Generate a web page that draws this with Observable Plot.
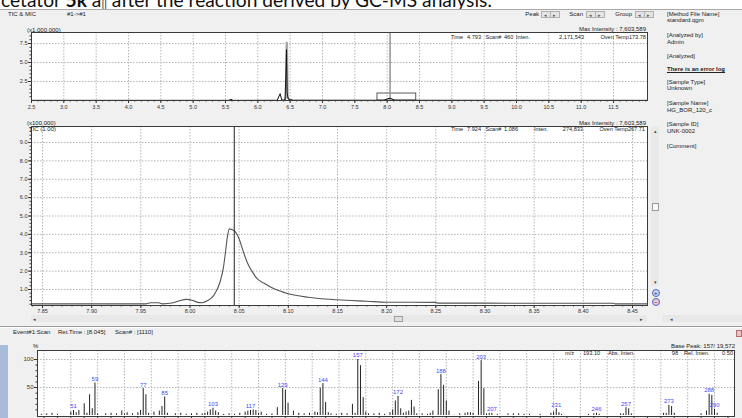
<!DOCTYPE html>
<html><head><meta charset="utf-8">
<script src="https://cdn.jsdelivr.net/npm/d3@7"></script>
<script src="https://cdn.jsdelivr.net/npm/@observablehq/plot@0.6"></script>
<style>
html,body{margin:0;padding:0;}
body{width:742px;height:418px;overflow:hidden;position:relative;background:#f0f0f0;font-family:"Liberation Sans",Arial,sans-serif;}
#root{position:absolute;left:0;top:0;width:742px;height:418px;}
.t{position:absolute;font-size:6px;line-height:8px;white-space:nowrap;color:#222;}
.s{font-size:5.6px;}
.box{position:absolute;box-sizing:border-box;}
.plot{position:absolute;left:0;}
</style></head><body>
<div id="root"></div>
<script>
// ---------------- DATA ----------------
// top chromatogram (TIC, x1,000,000)
const topTicks = [2.5,3.0,3.5,4.0,4.5,5.0,5.5,6.0,6.5,7.0,7.5,8.0,8.5,9.0,9.5,10.0,10.5,11.0,11.5];
const topYTicks = [2.5,5.0,7.5];
const ticBlackTime  = [2.5,5.55,5.585,5.62,6.30,6.345,6.37,6.42,6.433,6.443,6.453,6.47,6.50,6.55,7.95,8.03,8.06,8.12,12.025];
const ticBlackInten = [0.02,0.02,0.14,0.02,0.03,0.9,0.05,0.06,3.2,6.7,1.0,0.2,0.08,0.04,0.03,0.3,0.25,0.03,0.02];
const ticGrayTime  = [6.42,6.436,6.443,6.452,6.462,6.49,6.53];
const ticGrayInten = [0.05,0.5,7.6,7.6,0.4,0.12,0.03];
const zoomWindow = [7.85, 8.45, 0.92];
const cursorTime = 8.045;

// middle chromatogram (x100,000)
const midXTicks = [7.85,7.90,7.95,8.00,8.05,8.10,8.15,8.20,8.25,8.30,8.35,8.40,8.45];
const midYTicks = [1,2,3,4,5,6,7,8,9];
const midTime  = [7.8388,7.90,7.955,7.96,7.968,7.972,7.983,7.99,7.996,8.003,8.008,8.012,8.018,8.024,8.028,8.031,8.034,8.036,8.038,8.040,8.043,8.046,8.050,8.054,8.058,8.063,8.068,8.075,8.085,8.10,8.12,8.15,8.18,8.20,8.25,8.252,8.30,8.35,8.40,8.43,8.432,8.4653];
const midInten = [0.22,0.22,0.22,0.28,0.28,0.22,0.28,0.40,0.46,0.40,0.30,0.28,0.40,0.67,1.05,1.49,2.2,3.0,3.85,4.30,4.25,4.15,3.75,3.1,2.5,2.0,1.6,1.35,1.05,0.77,0.58,0.44,0.36,0.31,0.30,0.26,0.26,0.25,0.25,0.25,0.22,0.22];

// mass spectrum (relative intensity, %)
const specMz  = [39,41,43,45,50,51,52,53,55,56,57,58,59,60,63,65,67,69,70,71,73,75,76,77,78,79,81,83,84,85,86,89,91,93,95,97,99,100,101,102,103,104,105,107,109,111,113,115,116,117,118,119,120,121,123,125,127,129,130,131,133,135,137,139,141,142,143,144,145,146,147,149,151,153,155,156,157,158,159,160,161,163,165,167,169,170,171,172,173,174,175,176,177,178,179,181,183,184,185,187,188,189,190,191,193,195,197,198,199,200,202,203,204,205,206,207,209,213,215,217,219,221,225,229,230,231,232,233,243,245,246,247,255,256,257,258,259,271,272,273,274,275,285,287,288,289,290,291];
const specRel = [2,3,4,2,6,9,5,9,21,4,37,12,58,3,3,4,3,8,3,5,3,5,9,48,37,4,6,8,16,33,4,3,4,2,3,4,3,4,6,10,13,8,5,2,3,2,4,6,8,9,10,9,4,6,2,3,14,48,45,22,8,4,3,4,6,5,49,57,23,5,3,2,4,3,20,4,100,89,32,6,3,3,4,2,5,10,26,34,12,4,6,8,27,15,3,3,2,4,8,46,73,54,26,8,0.5,3,4,5,5,4,61,98,48,3,4,4,2,3,3,3,2,2,2,4,6,12,5,2,2,3,4,2,3,3,14,12,3,4,4,18,16,4,3,8,38,36,11,4];
const specLabels = [51,59,77,85,103,117,129,144,157,172,188,203,207,231,246,257,273,288,290];
const specGrid = [40,50,60,70,80,90,100,110,120,130,140,150,160,170,180,190,200,210,220,230,240,250,260,270,280,290];

// ---------------- BUILD ----------------
const root = document.getElementById("root");
const fmt1 = d3.format(".1f"), fmt2 = d3.format(".2f");
const baseStyle = {fontFamily:"Liberation Sans, Arial, sans-serif", fontSize:"5.5px", background:"transparent", color:"#333", overflow:"visible"};
const gridOpt = {stroke:"#b5b5b5", strokeOpacity:1, strokeDasharray:"1.5,1.5"};

function addPlot(p, top){ p.classList.add("plot"); p.style.top = top+"px"; root.appendChild(p); }

// top panel
const topBlack = ticBlackTime.map((t,i)=>({t, v:ticBlackInten[i]}));
const topGray = ticGrayTime.map((t,i)=>({t, v:ticGrayInten[i]}));
const topMinor = d3.range(25,121).map(d=>d/10);
addPlot(Plot.plot({
  width:742, height:116, marginLeft:31, marginRight:95, marginTop:32, marginBottom:16,
  x:{domain:[2.5,11.5], range:[31,613]},
  y:{domain:[0,7.5], range:[100,43]},
  style: baseStyle,
  marks:[
    Plot.frame({fill:"white", stroke:"none"}),
    Plot.gridX(topTicks.slice(1), gridOpt),
    Plot.gridY(topYTicks, gridOpt),
    Plot.rect([zoomWindow], {x1:d=>d[0], x2:d=>d[1], y1:0, y2:d=>d[2], stroke:"#333", fill:"none", strokeWidth:0.8}),
    Plot.ruleX([cursorTime], {stroke:"#9a9a9a", strokeWidth:1.6}),
    Plot.line(topGray, {x:"t", y:"v", stroke:"#a8a8a8", strokeWidth:2}),
    Plot.line(topBlack, {x:"t", y:"v", stroke:"#111", strokeWidth:1}),
    Plot.axisX(topMinor, {tickSize:1.5, tickFormat:()=>"", label:null, stroke:"#333"}),
    Plot.axisX(topTicks, {tickSize:3, tickPadding:1.5, tickFormat:fmt1, label:null, stroke:"#333"}),
    Plot.axisY(d3.range(1,18).map(d=>d/2), {tickSize:1.5, tickFormat:()=>"", label:null, stroke:"#333"}),
    Plot.axisY(topYTicks, {tickSize:3, tickPadding:1, tickFormat:fmt1, label:null, stroke:"#333"}),
    Plot.frame({stroke:"#3a3a3a", strokeWidth:1})
  ]
}), 0);

// middle panel
const mid = midTime.map((t,i)=>({t, v:midInten[i]}));
const midMinorX = d3.range(784,847).map(d=>d/100);
const midMinorY = d3.range(1,50).map(d=>d/5);
addPlot(Plot.plot({
  width:742, height:204, marginLeft:31, marginRight:95, marginTop:10, marginBottom:15,
  x:{domain:[7.85,8.45], range:[42,632]},
  y:{domain:[1,9], range:[173,26]},
  style: baseStyle,
  marks:[
    Plot.frame({fill:"white", stroke:"none"}),
    Plot.gridX(midXTicks, gridOpt),
    Plot.gridY(midYTicks, gridOpt),
    Plot.line(mid, {x:"t", y:"v", stroke:"#555", strokeWidth:1.1, curve:"monotone-x"}),
    Plot.ruleX([cursorTime], {stroke:"#222", strokeWidth:1}),
    Plot.axisX(midMinorX, {tickSize:1.5, tickFormat:()=>"", label:null, stroke:"#333"}),
    Plot.axisX(midXTicks, {tickSize:3, tickPadding:0.5, tickFormat:fmt2, label:null, stroke:"#333"}),
    Plot.axisY(midMinorY, {tickSize:1.5, tickFormat:()=>"", label:null, stroke:"#333"}),
    Plot.axisY(midYTicks, {tickSize:3, tickPadding:1, tickFormat:fmt1, label:null, stroke:"#333"}),
    Plot.frame({stroke:"#3a3a3a", strokeWidth:1})
  ]
}), 116);

// spectrum
const spec = specMz.map((m,i)=>({mz:m, rel:specRel[i]}));
const specLab = spec.filter(d=>specLabels.includes(d.mz));
addPlot(Plot.plot({
  width:742, height:80, marginLeft:37, marginRight:8, marginTop:12, marginBottom:2,
  x:{domain:[51,290], range:[73,714]},
  y:{domain:[0,100], range:[77,21]},
  style: baseStyle,
  marks:[
    Plot.frame({fill:"white", stroke:"none"}),
    Plot.gridX(specGrid, gridOpt),
    Plot.gridY([50,100], gridOpt),
    Plot.ruleX(spec, {x:"mz", y1:0, y2:"rel", stroke:"#222", strokeWidth:1}),
    Plot.text(specLab, {x:"mz", y:"rel", text:d=>String(d.mz), dy:-4, fill:"#4848ff", fontSize:6}),
    Plot.axisY(d3.range(10,101,10), {tickSize:1.5, tickFormat:()=>"", label:null, stroke:"#333"}),
    Plot.axisY([50,100], {tickSize:3, tickPadding:1, label:null, stroke:"#333", fontSize:6}),
    Plot.axisX(d3.range(40,296,5), {tickSize:2, tickFormat:()=>"", label:null, stroke:"#333"}),
    Plot.frame({stroke:"#3a3a3a", strokeWidth:1})
  ]
}), 338);

// ---------------- UI decorations ----------------
function box(x,y,w,h,st){ const d=document.createElement("div"); d.className="box"; Object.assign(d.style,{left:x+"px",top:y+"px",width:w+"px",height:h+"px"},st||{}); root.appendChild(d); return d; }
function txt(s,x,y,o){ o=o||{}; const d=document.createElement("div"); d.className="t"+(o.cls?" "+o.cls:""); d.textContent=s; d.style.top=(y-4)+"px";
  if(o.right) d.style.right=(742-x)+"px"; else d.style.left=x+"px"; if(o.style) Object.assign(d.style,o.style); root.appendChild(d); return d; }

// white caption strip
const cap = box(0,0,742,9.5,{background:"#fff",overflow:"hidden"});
cap.innerHTML = '<svg width="742" height="10" style="position:absolute;left:0;top:0"><text id="captext" x="1" y="7.3" font-family="Lato, Noto Sans, sans-serif" font-size="16.5" fill="#111">cetator <tspan font-weight="bold">5k</tspan> a<tspan font-size="11">||</tspan> after the reaction derived by GC-MS analysis:</text></svg>';
box(0,9,742,1,{background:"#a9a9a9"});
const ct = document.getElementById("captext");
const w = ct.getComputedTextLength(); if (w>0) ct.setAttribute("font-size", (16.5*492/w).toFixed(2));

// header row
txt("TIC & MIC",8,14); txt("#1->#1",67,14);
function btns(x){ const b=box(x,11,19,7,{background:"#e4e4e4",border:"1px solid #b0b0b0"}); box(x+9,12,1,5,{background:"#b0b0b0"});
  txt("◂",x+2.5,14.5,{style:{fontSize:"5px",color:"#555"}}); txt("▸",x+11.5,14.5,{style:{fontSize:"5px",color:"#555"}}); }
txt("Peak",539,14,{right:true}); btns(541);
txt("Scan",583,14,{right:true}); btns(586);
txt("Group",632,14,{right:true}); btns(635);

// top panel texts
txt("(x1,000,000)",27,30);
txt("Max Intensity : 7,603,589",646,29,{right:true});
txt("Time",451,37,{cls:"s"}); txt("4.793",481,37,{right:true,cls:"s"}); txt("Scan#",485.5,37,{cls:"s"}); txt("460",504,37,{cls:"s"}); txt("Inten.",516,37,{cls:"s"});
txt("2,171,543",584,37,{right:true,cls:"s"}); txt("Oven Temp173.78",646,37,{right:true,cls:"s"});

// middle panel texts
txt("(x100,000)",27,122.5); txt("TIC (1.00)",29,128.5);
txt("Max Intensity : 7,603,589",646,122.5,{right:true});
txt("Time",451,129,{cls:"s"}); txt("7.924",481,129,{right:true,cls:"s"}); txt("Scan#",485.5,129,{cls:"s"}); txt("1,086",504,129,{cls:"s"}); txt("Inten.",534,129,{cls:"s"});
txt("274,833",583,129,{right:true,cls:"s"}); txt("Oven Temp267.71",645,129,{right:true,cls:"s"});

// vertical scrollbar + zoom buttons
box(651,126,8,160,{background:"#e9e9e9"});
txt("▴",653.5,131,{style:{fontSize:"5px",color:"#444"}});
txt("▾",653.5,282,{style:{fontSize:"5px",color:"#444"}});
box(652,203,7,8,{background:"#fafafa",border:"1px solid #9a9a9a"});
box(652,289,8,8,{background:"#c9d6f2",border:"1px solid #4a66c8",borderRadius:"50%"});
box(652,298,8,8,{background:"#f0c8d0",border:"1px solid #4a66c8",borderRadius:"50%"});
txt("+",654,292.5,{style:{fontSize:"6px",color:"#223"}}); txt("−",654,301.5,{style:{fontSize:"6px",color:"#223"}});

// horizontal scrollbars
box(31,315,616,7,{background:"#e8e8e8"});
txt("◂",33,319,{style:{fontSize:"5px",color:"#444"}});
txt("▸",640,319,{style:{fontSize:"5px",color:"#444"}});
box(394,316,9,6,{background:"#dedede",border:"1px solid #a0a0a0"});
box(662,315,80,7,{background:"#e8e8e8"});
txt("◂",670,319,{style:{fontSize:"5px",color:"#444"}});

// side panel
const side = [["[Method File Name]",13.5],["standard.qgm",20],["[Analyzed by]",35],["Admin",41.5],["[Analyzed]",56],
  ["[Sample Type]",81.5],["Unknown",88],["[Sample Name]",103],["HG_BOR_120_c",109.5],["[Sample ID]",124],["UNK-0002",130.5],["[Comment]",146]];
side.forEach(([s,y])=>txt(s,667,y));
txt("There is an error log",667,69,{style:{fontWeight:"bold",textDecoration:"underline"}});

// separator and spectrum header
box(0,326,742,1,{background:"#9c9c9c"}); box(0,327,742,1,{background:"#fdfdfd"});
box(736,330,6,7,{background:"#eac4c4",border:"1px solid #b07070"});
txt("Event#1:Scan",13,332); txt("Ret.Time : [8.045]",58,332); txt("Scan# : [1110]",115,332);
box(0,345,8,73,{background:"#a8bbd8"});
txt("%",33,346);
txt("Base Peak: 157/ 19,572",735,346,{right:true});
txt("m/z",565,353,{cls:"s"}); txt("193.10",583,353,{cls:"s"}); txt("Abs. Inten.",608,353,{cls:"s"});
txt("98",678,353,{right:true,cls:"s"}); txt("Rel. Inten.",684,353,{cls:"s"}); txt("0.50",733,353,{right:true,cls:"s"});
</script>
</body></html>
